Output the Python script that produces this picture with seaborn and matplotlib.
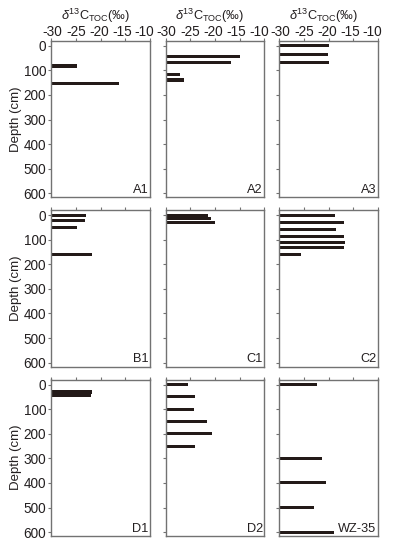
import matplotlib
matplotlib.use("Agg")
import matplotlib.pyplot as plt
import seaborn as sns
import pandas as pd
from matplotlib.ticker import FixedLocator, FuncFormatter
from matplotlib.transforms import ScaledTranslation

# ---------------- data (depth in cm, delta13C TOC in permil) ----------------
panel_names = ["A1", "A2", "A3", "B1", "C1", "C2", "D1", "D2", "WZ-35"]

a1_depth = [82, 154]
a1_d13c = [-24.7, -16.2]
a2_depth = [44, 68, 116, 139]
a2_d13c = [-14.9, -16.7, -27.1, -26.3]
a3_depth = [0, 34, 69]
a3_d13c = [-20.0, -20.2, -20.0]

b1_depth = [0, 20, 52, 161]
b1_d13c = [-23.0, -23.1, -24.7, -21.8]
c1_depth = [0, 15, 30]
c1_d13c = [-21.3, -20.7, -19.9]
c2_depth = [0, 28, 57, 86, 113, 131, 160]
c2_d13c = [-18.8, -17.0, -18.5, -17.0, -16.6, -17.0, -25.6]

d1_depth = [30, 46]
d1_d13c = [-21.8, -22.0]
d2_depth = [0, 50, 100, 150, 200, 250]
d2_d13c = [-25.5, -24.0, -24.2, -21.7, -20.5, -24.0]
wz_depth = [0, 300, 400, 500, 600]
wz_d13c = [-22.3, -21.4, -20.5, -23.0, -18.9]

x_ticks = [-30, -25, -20, -15, -10]
y_ticks = [0, 100, 200, 300, 400, 500, 600]

depths = [a1_depth, a2_depth, a3_depth, b1_depth, c1_depth, c2_depth,
          d1_depth, d2_depth, wz_depth]
values = [a1_d13c, a2_d13c, a3_d13c, b1_d13c, c1_d13c, c2_d13c,
          d1_d13c, d2_d13c, wz_d13c]

# ---------------- style ----------------
sns.set_theme(style="ticks")
plt.rcParams["font.family"] = ["Liberation Sans", "DejaVu Sans"]
plt.rcParams["mathtext.fontset"] = "custom"
plt.rcParams["mathtext.rm"] = "Liberation Sans"
plt.rcParams["mathtext.it"] = "Liberation Sans:italic"

BAR = "#231a18"
SPINE = "#727272"
TXT = "#231f20"
X0 = -30  # bars start at the left edge of the axis

fig = plt.figure(figsize=(3.94, 5.5), dpi=100)
W, H = 394.0, 550.0

col_left = [51.3, 165.5, 279.3]
col_width = 98.8
row_top = [40.7, 210.0, 379.5]
row_height = 156.5
ylim = (616, -21)
bar_h_cm = 12.5

# pixel nudges of the top tick labels (labels are packed in reference)
label_dx = [1.0, 0.0, -1.5, -3.0, -5.5]
label_dy = -3.5

title = r"$\it{\delta}^{13}\rm{C}_{TOC}$(‰)"

axes = []
for i, name in enumerate(panel_names):
    r, c = divmod(i, 3)
    left = col_left[c] / W
    bottom = 1 - (row_top[r] + row_height) / H
    ax = fig.add_axes([left, bottom, col_width / W, row_height / H])
    axes.append(ax)

    df = pd.DataFrame({"depth": depths[i], "d13c": values[i]})
    df["length"] = df["d13c"] - X0
    dd = sorted(set(df["depth"]))
    min_gap = min(b - a for a, b in zip(dd[:-1], dd[1:]))
    sns.barplot(data=df, x="length", y="depth", orient="y", native_scale=True,
                width=bar_h_cm / min_gap, color=BAR, saturation=1,
                linewidth=0, ax=ax, errorbar=None)

    ax.set_xlim(0, 20)
    ax.set_ylim(*ylim)
    ax.xaxis.set_major_locator(FixedLocator([t - X0 for t in x_ticks]))
    ax.xaxis.set_major_formatter(FuncFormatter(lambda v, p: f"{int(round(v + X0))}"))
    ax.yaxis.set_major_locator(FixedLocator(y_ticks))
    ax.xaxis.tick_top()
    ax.set_xlabel("")
    ax.set_ylabel("")

    for s in ax.spines.values():
        s.set_visible(True)
        s.set_color(SPINE)
        s.set_linewidth(1.0)
    ax.tick_params(axis="both", which="major", direction="out", length=2.2,
                   width=0.8, color=SPINE, labelsize=9.8, labelcolor=TXT, pad=1.5)
    ax.tick_params(axis="x", top=True, bottom=False, labeltop=(r == 0),
                   labelbottom=False)
    ax.tick_params(axis="y", left=True, right=False, labelleft=(c == 0))

    if r == 0:
        ax.annotate(title, xy=(0.5, 1.0), xycoords="axes fraction",
                    xytext=(-3.5, 15.2), textcoords="offset points",
                    ha="center", va="baseline", fontsize=9.2, color=TXT)
    if c == 0:
        ax.set_ylabel("Depth (cm)", fontsize=9.5, color=TXT, va="center")
        ax.yaxis.set_label_coords(-(col_left[0] - 15.5) / col_width, 0.5)

    ax.text(0.985, 0.008, name, transform=ax.transAxes, ha="right",
            va="bottom", fontsize=9.2, color=TXT)

fig.canvas.draw()
for ax in axes[:3]:
    for tick, dx in zip(ax.xaxis.get_major_ticks(), label_dx):
        lab = tick.label2
        lab.set_transform(lab.get_transform() +
                          ScaledTranslation(dx / 100.0, label_dy / 100.0,
                                            fig.dpi_scale_trans))

fig.savefig("out.png", dpi=100)
